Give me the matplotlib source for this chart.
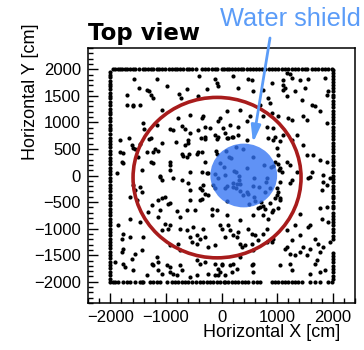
import matplotlib
matplotlib.use('Agg')
import matplotlib.pyplot as plt
from matplotlib.patches import Circle
from matplotlib.ticker import MultipleLocator

# points inside the square
inner_x = [-1566, -1164, -408, -114, -84, -54, -1476, -1344, -1308, -1266, -1224, -1704, -972, -624, -264,
           -756, -732, -1704, -1584, -1596, -1464, -414, -1074, -774, -564, -324, -354, -24, -54, -1404,
           -1392, -1164, -924, -864, -714, -654, -564, -426, -294, -204, -1824, -1656, -1614, -1584, -1554,
           -1464, -1296, -1266, -1074, -822, -654, -594, -594, -372, -294, -114, -54, -1824, -1764, -1794,
           -1764, -1494, -1344, -1236, -1194, -1134, -1266, -1224, -924, -924, -924, -714, -684, -624, -582,
           -444, -414, -564, -1104, -1434, -1884, -234,
           213, 303, 483, 543, 573, 753, 843, 693, 873, 903, 1113, 1173, 1233, 1263, 1113, 1143, 1113, 1413,
           1563, 1323, 1503, 1173, 1443, 1923, 1893, 1863, 1623, 1683, 1773, 93, 333, 513, 753, 903, 1023,
           1203, 1263, 1533, 1473, 1893, 153, 303, 453, 813, 933, 63, 33, 213, 303, 453, 123, 843, 963, 1113,
           1353, 1263, 1473, 1533, 1653, 1773, 1893, 993, 1023, 1173, 1233, 1053, 1353, 1083, 1623, 1833, 1953,
           -1104, -1074, -864, -714, -594, -564, -384, -354, -1584, -1554, -1464, -1434, -1644, -1524, -1134,
           -1074, -1014, -954, -924, -1254, -1314, -1104, -564, -384, -234, -804, -744, -624, -474, -174,
           -1644, -1464, -1134, -1014, -924, -954, -1074, -1854, -1404, -1644, -1764, -1794, -744, -624, -504,
           -384, -324, -24, -564, -534, -444, -924, -744, -774, -444, -294, -234, -114, -1794, -1764, -1554,
           -1614, -1434, -1164, -1134, -1224, -1254, -984, -924, -744, -714, -444, -384, -294, -114, -54, 6,
           -1764, -1734, -1584, -1914, -1344, -1134, -1074, -924, -864, -804, -564, -444, -234, -114, -24, -54,
           1263, 1233, 1593, 1563, 1833, 1893, 1803, 993, 1023, 1053, 963, 1023, 873, 903, 693, 753, 573, 843,
           333, 93, 123, 3, 153, 303, 213, 273, 63, 483, 543, 603, 753, 813, 1173, 1323, 1413, 1563, 1593, 1773,
           1893, 1803, 1923, 1413, 1263, 1173, 1143, 933, 903, 813, 663, 543, 423, 333, 363, 573, 1473, 1593,
           1683, 1743, 1773, 1833, 1953, 1233, 1323, 1413, 1533, 1683, 1713, 1053, 1233, 1263, 1593, 1773, 1863,
           333, 213, 153, 573, 543, 273, 183, 63, 573, 3,
           254, 381, 80, 140, 170, 560, 452, 230, 254, 44, -27, 770, 890, 920, -117, -69, 62, 320, 314, 212,
           272, 332, 200, 260, 584, 560, 680, 812, 800, -147, -117, 62, 92, 332, 392, 452, 470, 584, 782, 872,
           92, 500, 602, 710,
           -297, -87, 92, 182, 920, 1051, -357, -99, -75, -297, 961, 1021, -357, -267, 1039, 1051, -339, -297,
           -357, 991, 1051, -177, 662, 752, 782, 931, -87]
inner_y = [1817, 1823, 1880, 1823, 1742, 1679, 1647, 1616, 1584, 1521, 1458, 1521, 1679, 1628, 1628,
           1540, 1458, 1332, 1332, 1300, 1332, 1490, 1237, 1080, 1143, 1112, 1080, 1080, 1017, 985,
           878, 954, 878, 860, 941, 878, 797, 860, 922, 891, 671, 702, 576, 526, 500,
           589, 683, 715, 608, 639, 576, 671, 608, 715, 734, 765, 734, 450, 419, 261,
           230, 356, 437, 450, 500, 463, 261, 230, 248, 198, 104, 400, 375, 356, 400,
           400, 450, 72, -4, 104, 40, 40,
           1867, 1647, 1823, 1804, 1584, 1616, 1458, 1332, 1363, 1742, 1804, 1931, 1912, 1836, 1710, 1647, 1616, 1804,
           1823, 1597, 1647, 1490, 1427, 1584, 1521, 1836, 1332, 1301, 1206, 1206, 1238, 1112, 1112, 1175, 1112,
           1080, 1049, 1049, 1112, 986, 954, 922, 1017, 922, 891, 797, 891, 734, 765, 671, 702, 702, 734, 765,
           765, 671, 576, 387, 387, 293, 261, 513, 387, 261, 198, 135, 72, 59, 72, 9, -54,
           -23, -86, -54, -86, -149, -275, -243, -275, -180, -275, -212, -306, -401, -464, -464,
           -432, -401, -545, -526, -558, -684, -653, -464, -464, -369, -671, -779, -653, -653, -747,
           -810, -873, -779, -905, -936, -999, -1031, -936, -1157, -1157, -1094, -1188, -999, -1031, -968,
           -1188, -999, -936, -1157, -1251, -1283, -1314, -1409, -1283, -1125, -1157, -1346, -1314, -1440, -1377, -1472,
           -1566, -1409, -1535, -1629, -1692, -1661, -1692, -1724, -1692, -1787, -1598, -1661, -1629, -1661, -1755, -1692,
           -1661, -1724, -1787, -1629, -1881, -1787, -1850, -1818, -1850, -1881, -1913, -1881, -1850, -1881, -1818, -1881,
           -86, -149, -23, -54, -117, -180, -275, -243, -306, -432, -432, -621, -526, -684, -590, -747, -747, -810,
           -842, -747, -936, -999, -1031, -1062, -1125, -1157, -1157, -999, -1094, -1125, -1094, -999, -1031, -936, -716, -968, -936, -621,
           -590, -810, -873, -1125, -1220, -1346, -1377, -1188, -1251, -1251, -1220, -1283, -1314, -1283, -1346, -1409, -1346, -1377,
           -1188, -1283, -1440, -1346, -1251, -1472, -1503, -1440, -1503, -1661, -1598, -1692, -1661, -1787, -1850, -1818, -1787,
           -1535, -1661, -1692, -1661, -1692, -1755, -1818, -1881, -1818, -1661,
           545, 500, 463, 356, 337, 356, 148, 85, 59, 167, 242, 198, 167, 185, 22, -41, 9, -4, -86, -149,
           -167, -167, -224, -230, -54, -193, -212, -54, -117, -180, -230, -230, -193, -293, -369, -319, -356, -400, -306, -243,
           -482, -545, -476, -495,
           689, 689, 702, 733, 670, 652, 450, 463, 400, 261, 261, 211, 72, 40, 104, -117, -180, -356,
           -444, -369, -463, -634, -608, -571, -634, -653, -653]

# points on the square outline
top_x = [-1956, -1914, -1866, -1824, -1782, -1734, -1692, -1644, -1596, -1554, -1476, -1416, -1374, -1314,
         -1266, -1224, -1164, -1116, -1074, -1014, -936, -894, -834, -792, -744, -684, -624, -576, -534, -456,
         -354, -294, -234, -174, -114, -72, 6, 45, 93, 141, 183, 243, 303, 345, 393, 453, 513, 573, 621, 681,
         723, 783, 861, 903, 963, 1023, 1083, 1143, 1203, 1263, 1323, 1383, 1443, 1503, 1545, 1623, 1683, 1743,
         1803, 1863, 1923, 1983]
bottom_x = [-2004, -1956, -1914, -1854, -1776, -1704, -1644, -1554, -1464, -1434, -1404, -1284, -1224, -1164,
            -1104, -984, -894, -834, -774, -714, -654, -594, -534, -456, -384, -324, -264, -204, -144, -84, -24,
            36, 63, 123, 183, 243, 303, 363, 423, 483, 573, 633, 693, 903, 963, 1023, 1083, 1143, 1203, 1263,
            1323, 1383, 1443, 1593, 1683, 1773, 1923, 1983]
left_y = [1950, 1890, 1850, 1780, 1720, 1690, 1620, 1560, 1500, 1450, 1380, 1330, 1250, 1200, 1150, 1090,
          1020, 960, 900, 850, 780, 700, 650, 590, 530, 470, 400, 330, 280, 210, 150, 90, 20, -40, -110, -170,
          -230, -300, -370, -420, -490, -560, -630, -680, -740, -810, -870, -930, -1000, -1060, -1120, -1190,
          -1250, -1300, -1370, -1440, -1500, -1560, -1620, -1690, -1750, -1810, -1880, -1940]
right_y = [1990, 1930, 1870, 1810, 1760, 1700, 1640, 1590, 1520, 1470, 1400, 1340, 1290, 1220, 1160, 1100,
           1040, 990, 920, 860, 800, 740, 690, 620, 560, 500, 440, 370, 320, 250, 190, 130, 70, 0, -60, -120,
           -190, -250, -310, -380, -430, -500, -570, -620, -700, -760, -820, -880, -940, -1010, -1070, -1130,
           -1190, -1450, -1510, -1570, -1630, -1700, -1760, -1820, -1890, -1950]
edge = 2000

# circles
red_center = (-80, -40)
red_radius = 1510
shield_center = (400, 0)
shield_radius = 600
arrow_tip = (566, 614)

fig = plt.figure(figsize=(3.64, 3.5), dpi=100)
ax = fig.add_axes([88/364, 1 - 303/350, 267/364, 255/350])

pt = dict(ls='none', marker='o', ms=3.0, mew=0, color='black', zorder=2)
ax.plot(inner_x, inner_y, **pt)
ax.plot(top_x, [edge] * len(top_x), **pt)
ax.plot(bottom_x, [-edge] * len(bottom_x), **pt)
ax.plot([-edge] * len(left_y), left_y, **pt)
ax.plot([edge] * len(right_y), right_y, **pt)

ax.add_patch(Circle(red_center, red_radius, fill=False, ec='#a81c1c', lw=2.6, zorder=3))
ax.add_patch(Circle(shield_center, shield_radius, fc='#3373f3', ec='none', alpha=0.78, zorder=4))

ax.set_xlim(-2400, 2400)
ax.set_ylim(-2400, 2400)
ax.xaxis.set_major_locator(MultipleLocator(1000))
ax.xaxis.set_minor_locator(MultipleLocator(200))
ax.yaxis.set_major_locator(MultipleLocator(500))
ax.yaxis.set_minor_locator(MultipleLocator(100))
ax.tick_params(which='both', direction='in', top=False, right=False, width=1)
ax.tick_params(which='major', length=7, labelsize=12, pad=5)
ax.tick_params(which='minor', length=3.5)
for lab in ax.get_xticklabels() + ax.get_yticklabels():
    lab.set_family('Liberation Sans')
for s in ax.spines.values():
    s.set_linewidth(1.1)

fig.text(340/364, 1 - 337/350, 'Horizontal X [cm]', ha='right', va='baseline',
         fontsize=13, family='Liberation Sans')
fig.text(22/364, 1 - 24/350, 'Horizontal Y [cm]', ha='right', va='top', rotation=90,
         fontsize=13, family='Liberation Sans', rotation_mode='anchor')
fig.text(88/364, 1 - 40/350, 'Top view', ha='left', va='baseline',
         fontsize=16.5, fontweight='bold', family='DejaVu Sans')
fig.text(220/364, 1 - 26/350, 'Water shield', ha='left', va='baseline',
         fontsize=18.3, color='#5b9cf8', family='Liberation Sans')

ax.annotate('', xy=arrow_tip, xycoords='data', xytext=(270, 350 - 38), textcoords='figure pixels',
            arrowprops=dict(arrowstyle='-|>,head_length=1.0,head_width=0.28', color='#5b9cf8', lw=2,
                            shrinkA=0, shrinkB=0),
            annotation_clip=False, zorder=5)

fig.savefig('out.png', dpi=100)
